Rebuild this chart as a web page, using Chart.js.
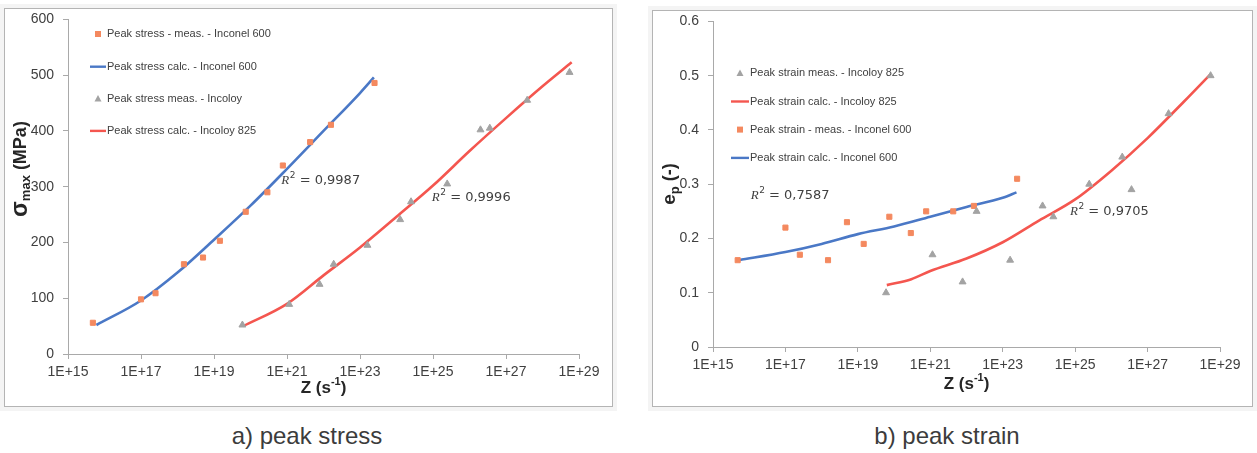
<!DOCTYPE html>
<html>
<head>
<meta charset="utf-8">
<script src="https://cdn.jsdelivr.net/npm/chart.js@4.4.1/dist/chart.umd.min.js"></script>
<style>
  html, body { margin: 0; padding: 0; background: #ffffff; }
  body { width: 1257px; height: 453px; position: relative; overflow: hidden; font-family: "Liberation Sans", Arial, sans-serif; }
  .panel { position: absolute; border: 1px solid #b4b4b4; box-shadow: 0 0 0 4px #f4f4f4; background: #fff; }
  .cv { position: absolute; }
  .cap { position: absolute; top: 422px; width: 400px; text-align: center; font-size: 24px; color: #3c3c3c; }
</style>
</head>
<body>
<div class="panel" style="left:4px; top:8px; width:607px; height:397px;"></div>
<div class="panel" style="left:652px; top:10px; width:599px; height:395px;"></div>
<canvas id="c1" class="cv" style="left:5px; top:2px;" width="607" height="403"></canvas>
<canvas id="c2" class="cv" style="left:653px; top:4px;" width="598" height="401"></canvas>
<div class="cap" style="left:107px;">a) peak stress</div>
<div class="cap" style="left:747px;">b) peak strain</div>
<script>
// ---------------- DATA ----------------
const xTickValues = [1e15, 1e17, 1e19, 1e21, 1e23, 1e25, 1e27, 1e29];
const stressTicks = [0, 100, 200, 300, 400, 500, 600];
const strainTicks = [0, 0.1, 0.2, 0.3, 0.4, 0.5, 0.6];

// Inconel 600 measurements
const inconelZ      = [4.8e15, 1.0e17, 2.5e17, 1.5e18, 5.0e18, 1.45e19, 7.4e19, 2.9e20, 7.7e20, 4.3e21, 1.6e22, 2.5e23];
const inconelStress = [56, 98, 109, 161, 173, 203, 255, 290, 338, 380, 411, 486];
const inconelStrain = [0.16, 0.22, 0.17, 0.16, 0.23, 0.19, 0.24, 0.21, 0.25, 0.25, 0.26, 0.31];

// Incoloy 825 measurements
const incoloyZ      = [6.0e19, 1.15e21, 7.8e21, 1.9e22, 1.6e23, 1.26e24, 2.5e24, 2.45e25, 2.0e26, 3.6e26, 3.8e27, 5.5e28];
const incoloyStress = [52, 89, 125, 161, 195, 241, 273, 305, 402, 405, 455, 505];
const incoloyStrain = [0.10, 0.17, 0.12, 0.25, 0.16, 0.26, 0.24, 0.30, 0.35, 0.29, 0.43, 0.50];

// Calculated curves
const inconelStressCalcZ = [6e15, 1e17, 1e18, 1e19, 1e20, 1e21, 1e22, 1e23, 2.4e23];
const inconelStressCalc  = [52, 96, 146, 205, 266, 332, 400, 468, 496];
const incoloyStressCalcZ = [6.3e19, 1e21, 1e22, 1e23, 1e24, 1e25, 1e26, 1e27, 1e28, 6.3e28];
const incoloyStressCalc  = [50, 90, 141, 191, 246, 302, 364, 423, 480, 523];
const inconelStrainCalcZ = [5.2e15, 1e17, 1e18, 1e19, 1e20, 1e21, 1e22, 1e23, 2.4e23];
const inconelStrainCalc  = [0.16, 0.175, 0.19, 0.208, 0.222, 0.24, 0.258, 0.275, 0.285];
const incoloyStrainCalcZ = [6.3e19, 3e20, 1e21, 1e22, 1e23, 1e24, 1e25, 1e26, 1e27, 1e28, 5.5e28];
const incoloyStrainCalc  = [0.114, 0.125, 0.14, 0.163, 0.193, 0.233, 0.272, 0.325, 0.385, 0.452, 0.503];

// Fit labels
const stressR2 = ["0,9987", "0,9996"];
const strainR2 = ["0,7587", "0,9705"];

// ---------------- STYLE ----------------
const ORANGE = '#f4895f', BLUE = '#4a78c6', GRAY = '#a3a3a3', RED = '#f4564f';
const AXIS = '#a9a9a9', TXT = '#404040';
const FONT = '"Liberation Sans", Arial, sans-serif';

const pts = (xs, ys) => xs.map((x, i) => ({ x: x, y: ys[i] }));

function measDs(label, xs, ys, color, style) {
  return { label, data: pts(xs, ys), showLine: false, pointStyle: style,
    pointRadius: style === 'triangle' ? 4 : 3.6, backgroundColor: color, borderColor: color,
    borderWidth: 1, kind: 'marker', clip: false };
}
function calcDs(label, xs, ys, color) {
  return { label, data: pts(xs, ys), showLine: true, pointRadius: 0, borderColor: color,
    backgroundColor: color, borderWidth: 2.6, cubicInterpolationMode: 'monotone', kind: 'line', clip: false };
}

const decoPlugin = {
  id: 'deco',
  afterDraw(chart, args, o) {
    const ctx = chart.ctx;
    const xs = chart.scales.x, ys = chart.scales.y;
    ctx.save();
    // Legend
    const L = o.legend;
    chart.data.datasets.forEach((ds, i) => {
      const y = L.y + i * L.dy[i];
      const cx = (L.x0 + L.x1) / 2;
      if (ds.kind === 'line') {
        ctx.strokeStyle = ds.borderColor; ctx.lineWidth = 2.4;
        ctx.beginPath(); ctx.moveTo(L.x0, y); ctx.lineTo(L.x1, y); ctx.stroke();
      } else if (ds.pointStyle === 'rect') {
        ctx.fillStyle = ds.backgroundColor;
        ctx.fillRect(cx - 3, y - 3, 6, 6);
      } else {
        ctx.fillStyle = ds.backgroundColor;
        ctx.beginPath(); ctx.moveTo(cx, y - 3.5); ctx.lineTo(cx + 3.5, y + 3); ctx.lineTo(cx - 3.5, y + 3); ctx.closePath(); ctx.fill();
      }
      ctx.fillStyle = TXT; ctx.font = '11px ' + FONT; ctx.textBaseline = 'middle'; ctx.textAlign = 'left';
      ctx.fillText(ds.label, L.x1 + 1, y);
    });
    // R² notes anchored to data coordinates
    o.notes.forEach(n => {
      let x = xs.getPixelForValue(n.x), y = ys.getPixelForValue(n.y);
      ctx.fillStyle = TXT; ctx.textBaseline = 'middle'; ctx.textAlign = 'left';
      ctx.font = 'italic 13px "Liberation Serif", serif';
      ctx.fillText('R', x, y); x += ctx.measureText('R').width + 0.5;
      ctx.font = '9px "DejaVu Sans", sans-serif';
      ctx.fillText('2', x, y - 5); x += ctx.measureText('2').width;
      ctx.font = '13px "DejaVu Sans", sans-serif';
      ctx.fillText(' = ' + n.text, x, y);
    });
    // X title: Z (s^-1)
    const xt = o.xTitle;
    const cxT = (chart.chartArea.left + chart.chartArea.right) / 2;
    const parts = [['Z (s', 'bold 17px ' + FONT, 0], ['-1', 'bold 11px ' + FONT, -6], [')', 'bold 17px ' + FONT, 0]];
    let w = 0; parts.forEach(p => { ctx.font = p[1]; w += ctx.measureText(p[0]).width; });
    let px = cxT - w / 2;
    ctx.fillStyle = '#262626'; ctx.textBaseline = 'middle';
    parts.forEach(p => { ctx.font = p[1]; ctx.fillText(p[0], px, xt.y + p[2]); px += ctx.measureText(p[0]).width; });
    // Y title (rotated)
    const yt = o.yTitle;
    ctx.translate(yt.x, yt.y); ctx.rotate(-Math.PI / 2);
    let w2 = 0; yt.parts.forEach(p => { ctx.font = p[1]; w2 += ctx.measureText(p[0]).width; });
    let qx = -w2 / 2;
    yt.parts.forEach(p => { ctx.font = p[1]; ctx.fillText(p[0], qx, p[2]); qx += ctx.measureText(p[0]).width; });
    ctx.restore();
  }
};

function axisX() {
  return {
    type: 'logarithmic', min: xTickValues[0], max: xTickValues[xTickValues.length - 1],
    afterBuildTicks: s => { s.ticks = xTickValues.map(v => ({ value: v })); },
    afterFit: s => { s.height = 30; },
    ticks: { autoSkip: false, maxRotation: 0, padding: 5, color: TXT, font: { family: FONT, size: 14 },
      callback: v => '1E+' + Math.round(Math.log10(v)) },
    grid: { drawOnChartArea: false, drawTicks: true, tickLength: 5, color: AXIS },
    border: { color: AXIS, width: 1 }
  };
}
function axisY(ticks) {
  return {
    type: 'linear', min: ticks[0], max: ticks[ticks.length - 1],
    afterBuildTicks: s => { s.ticks = ticks.map(v => ({ value: v })); },
    afterFit: s => { s.width = 40; },
    ticks: { padding: 9, color: TXT, font: { family: FONT, size: 14 } },
    grid: { drawOnChartArea: false, drawTicks: true, tickLength: 5, color: AXIS },
    border: { color: AXIS, width: 1 }
  };
}

new Chart(document.getElementById('c1'), {
  type: 'scatter',
  data: { datasets: [
    measDs('Peak stress - meas. - Inconel 600', inconelZ, inconelStress, ORANGE, 'rect'),
    calcDs('Peak stress calc. - Inconel 600', inconelStressCalcZ, inconelStressCalc, BLUE),
    measDs('Peak stress meas. - Incoloy', incoloyZ, incoloyStress, GRAY, 'triangle'),
    calcDs('Peak stress calc. - Incoloy 825', incoloyStressCalcZ, incoloyStressCalc, RED)
  ]},
  options: {
    responsive: false, animation: false, events: [],
    layout: { autoPadding: false, padding: { left: 23, top: 9, right: 33, bottom: 21 } },
    scales: { x: axisX(), y: axisY(stressTicks) },
    plugins: {
      legend: { display: false }, tooltip: { enabled: false },
      deco: {
        legend: { x0: 85, x1: 101, y: 32, dy: [0, 32.7, 32.3, 32.3] },
        notes: [ { x: 7e20, y: 311, text: stressR2[0] }, { x: 9.3e24, y: 280, text: stressR2[1] } ],
        xTitle: { y: 386 },
        yTitle: { x: 16, y: 167, parts: [['σ', 'bold 23px ' + FONT, 0], ['max', 'bold 13px ' + FONT, 5], [' (MPa)', 'bold 18px ' + FONT, 0]] }
      }
    }
  },
  plugins: [decoPlugin]
});

new Chart(document.getElementById('c2'), {
  type: 'scatter',
  data: { datasets: [
    measDs('Peak strain meas. - Incoloy 825', incoloyZ, incoloyStrain, GRAY, 'triangle'),
    calcDs('Peak strain calc. - Incoloy 825', incoloyStrainCalcZ, incoloyStrainCalc, RED),
    measDs('Peak strain - meas. - Inconel 600', inconelZ, inconelStrain, ORANGE, 'rect'),
    calcDs('Peak strain calc. - Inconel 600', inconelStrainCalcZ, inconelStrainCalc, BLUE)
  ]},
  options: {
    responsive: false, animation: false, events: [],
    layout: { autoPadding: false, padding: { left: 20, top: 9, right: 31, bottom: 28 } },
    scales: { x: axisX(), y: axisY(strainTicks) },
    plugins: {
      legend: { display: false }, tooltip: { enabled: false },
      deco: {
        legend: { x0: 78, x1: 96, y: 69, dy: [0, 28.5, 28.3, 28.3] },
        notes: [ { x: 1.1e16, y: 0.279, text: strainR2[0] }, { x: 7.2e24, y: 0.25, text: strainR2[1] } ],
        xTitle: { y: 380 },
        yTitle: { x: 17, y: 180, parts: [['e', 'bold 19px ' + FONT, 0], ['p', 'bold 13px ' + FONT, 5], [' (-)', 'bold 18px ' + FONT, 0]] }
      }
    }
  },
  plugins: [decoPlugin]
});
</script>
</body>
</html>
